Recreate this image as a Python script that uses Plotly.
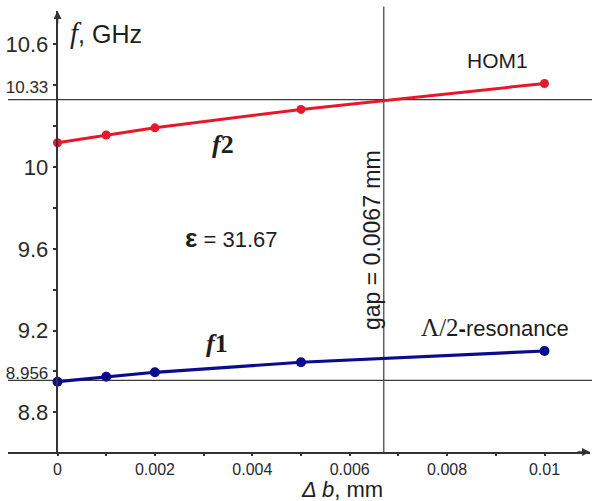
import plotly.graph_objects as go

# ---------------- data ----------------
delta_b = [0, 0.001, 0.002, 0.005, 0.01]          # Δb, mm
f2_hom1 = [10.119, 10.157, 10.192, 10.282, 10.409]  # f2 (HOM1), GHz
f1_res = [8.950, 8.974, 8.996, 9.045, 9.100]        # f1 (Λ/2-resonance), GHz

gap_value = 0.0067
f_hom_ref = 10.33
f_res_ref = 8.956

x_tickvals = [0, 0.001, 0.002, 0.003, 0.004, 0.005, 0.006, 0.007, 0.008, 0.009, 0.01]
x_ticktext = ["0", "", "0.002", "", "0.004", "", "0.006", "", "0.008", "", "0.01"]
y_tickvals = [8.8, 9.0, 9.2, 9.4, 9.6, 9.8, 10.0, 10.2, 10.4, 10.6]
y_ticktext = ["8.8", "8.956", "9.2", "", "9.6", "", "10", "", "10.33", "10.6"]

# ---------------- layout geometry ----------------
W, H = 592, 501
ML, MR, MT, MB = 8, 2, 11, 49
X_RANGE = [-0.0010164, 0.0109343]
Y_RANGE = [8.606, 10.7635]
plot_w = W - ML - MR
plot_h = H - MT - MB

def PX(px):
    return (px - ML) / plot_w

def PY(py):
    return (H - MB - py) / plot_h

SANS = "Liberation Sans, Arial, sans-serif"
SERIF = "Liberation Serif, Times New Roman, serif"
TXT = "#1e1e1e"
AX = "#333333"

small = lambda s: f'<span style="font-size:17px">{s}</span>' if s in ("8.956", "10.33") else s
y_ticktext_fmt = [small(t) for t in y_ticktext]

fig = go.Figure()

fig.add_trace(go.Scatter(
    x=delta_b, y=f2_hom1, mode="lines+markers",
    line=dict(color="#e8182c", width=3),
    marker=dict(color="#e8182c", size=9),
    showlegend=False, hoverinfo="skip",
))
fig.add_trace(go.Scatter(
    x=delta_b, y=f1_res, mode="lines+markers",
    line=dict(color="#0b0b8c", width=3.2),
    marker=dict(color="#0b0b8c", size=10),
    showlegend=False, hoverinfo="skip",
))

# reference lines
fig.add_shape(type="line", xref="paper", yref="y", x0=0, x1=1.01,
              y0=f_hom_ref, y1=f_hom_ref, line=dict(color="#3a3a3a", width=1.2), layer="below")
fig.add_shape(type="line", xref="paper", yref="y", x0=0, x1=1.01,
              y0=f_res_ref, y1=f_res_ref, line=dict(color="#3a3a3a", width=1.2), layer="below")
fig.add_shape(type="line", xref="x", yref="paper", x0=gap_value, x1=gap_value,
              y0=0, y1=1.01, line=dict(color="#3a3a3a", width=1.2), layer="below")

ann = []
# axis arrows
ann.append(dict(x=0, y=Y_RANGE[1], xref="x", yref="y", text="", showarrow=True,
                ax=0, ay=14, arrowhead=2, arrowsize=1, arrowwidth=1.6, arrowcolor=AX))
ann.append(dict(x=X_RANGE[1], y=Y_RANGE[0], xref="x", yref="y", text="", showarrow=True,
                ax=-14, ay=0, arrowhead=2, arrowsize=1, arrowwidth=1.6, arrowcolor=AX))

def label(text, px, py, size, family=SANS, xanchor="center", angle=0, pad=1):
    ann.append(dict(x=PX(px), y=PY(py), xref="paper", yref="paper", text=text, showarrow=False,
                    font=dict(family=family, size=size, color=TXT), borderpad=pad,
                    xanchor=xanchor, yanchor="middle", textangle=angle))

label(f'<span style="font-family:{SERIF};font-size:29px"><i>f</i></span>, GHz', 68, 33, 25, xanchor="left")
label("HOM1", 497, 60, 21)
label(f"<b><i>f</i>2</b>", 223, 145, 26, family=SERIF)
label('<b><span style="font-size:26px">ε</span></b> = 31.67', 231, 238, 22)
label("gap = 0.0067 mm", 372, 240, 23, angle=-90)
label(f'<span style="font-family:{SERIF};font-size:25px">Λ/2</span><b>-</b>resonance', 495, 327, 22)
label(f"<b><i>f</i>1</b>", 217, 343, 26, family=SERIF)
label("<i>Δ b</i>, mm", 342, 489, 22, pad=0)

fig.update_layout(
    width=W, height=H,
    margin=dict(l=ML, r=MR, t=MT, b=MB),
    paper_bgcolor="white", plot_bgcolor="white",
    annotations=ann,
    xaxis=dict(
        range=X_RANGE, showgrid=False, zeroline=False,
        showline=True, linecolor=AX, linewidth=1.6,
        tickmode="array", tickvals=x_tickvals, ticktext=x_ticktext,
        ticks="outside", ticklen=2, tickwidth=1.5, tickcolor=AX,
        tickfont=dict(family=SANS, size=16, color="#2a2a2a"),
        anchor="y", automargin=False,
    ),
    yaxis=dict(
        range=Y_RANGE, showgrid=False, zeroline=False,
        showline=True, linecolor=AX, linewidth=1.6,
        anchor="free", position=(0 - X_RANGE[0]) / (X_RANGE[1] - X_RANGE[0]),
        tickmode="array", tickvals=y_tickvals, ticktext=y_ticktext_fmt,
        ticks="outside", ticklen=4, tickwidth=1.5, tickcolor=AX,
        tickfont=dict(family=SANS, size=22, color="#2a2a2a"),
        automargin=False,
    ),
)

fig.write_html("out.html")
